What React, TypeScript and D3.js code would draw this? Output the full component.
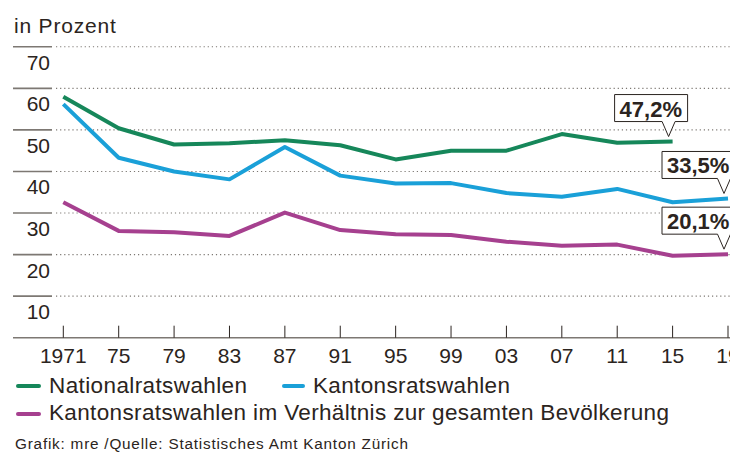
import React from "react";
import {scaleLinear, line} from "d3";

const years = [1971, 1975, 1979, 1983, 1987, 1991, 1995, 1999, 2003, 2007, 2011, 2015, 2019];
const yearLabels = ["1971", "75", "79", "83", "87", "91", "95", "99", "03", "07", "11", "15", "19"];
const nationalrat = [58.0, 50.4, 46.5, 46.8, 47.5, 46.3, 42.9, 45.0, 45.0, 49.0, 46.9, 47.2];
const kantonsrat = [56.2, 43.3, 40.0, 38.1, 45.9, 39.0, 37.1, 37.2, 34.8, 33.9, 35.8, 32.6, 33.5];
const bevoelkerung = [32.6, 25.7, 25.4, 24.5, 30.1, 25.9, 24.9, 24.7, 23.1, 22.1, 22.4, 19.7, 20.1];
const yTicks = [10, 20, 30, 40, 50, 60, 70];
const callouts = ["47,2%", "33,5%", "20,1%"];

const GREEN = "#16875a";
const BLUE = "#1aa0d8";
const PURPLE = "#a6408f";
const TEXT = "#2b2420";
const GRID = "#7d7873";
const FONT = "'Liberation Sans', Arial, Helvetica, sans-serif";

export default function App() {
    const width = 730;
    const height = 452;

    const x = scaleLinear().domain([1971, 2019]).range([63.3, 728]);
    const y = scaleLinear().domain([0, 70]).range([337.7, 46.8]);

    const path = line<number>()
        .x((d, i) => x(years[i]))
        .y((d) => y(d));

    const series = [
        {name: "Nationalratswahlen", values: nationalrat, color: GREEN, boxShift: 54},
        {name: "Kantonsratswahlen", values: kantonsrat, color: BLUE, boxShift: 62},
        {name: "Kantonsratswahlen im Verhältnis zur gesamten Bevölkerung", values: bevoelkerung, color: PURPLE, boxShift: 62},
    ];

    return (
        <svg
            width={width}
            height={height}
            style={{position: "absolute", left: 0, top: 0, display: "block", background: "#fff"}}
            fontFamily={FONT}
        >
            <text x={14} y={33} fontSize={21} letterSpacing={0.8} fill={TEXT}>in Prozent</text>

            {/* grid */}
            {yTicks.map((v) => (
                <g key={v}>
                    <line x1={13} x2={52} y1={y(v)} y2={y(v)} stroke={GRID} strokeWidth={1.6} />
                    <line x1={56} x2={width} y1={y(v)} y2={y(v)} stroke={GRID} strokeWidth={1.1} strokeDasharray="1.2 2.9" />
                    <text x={50} y={y(v) + 23} fontSize={21} textAnchor="end" fill={TEXT}>{v}</text>
                </g>
            ))}

            {/* x axis */}
            <line x1={13} x2={width} y1={y(0)} y2={y(0)} stroke={GRID} strokeWidth={1.6} />
            {years.map((yr, i) => (
                <g key={yr}>
                    <line x1={x(yr)} x2={x(yr)} y1={y(0) - 12} y2={y(0)} stroke={TEXT} strokeWidth={1} />
                    <text x={x(yr)} y={362.7} fontSize={21} textAnchor="middle" fill={TEXT}>{yearLabels[i]}</text>
                </g>
            ))}

            {/* lines */}
            {series.map((s) => (
                <path key={s.name} d={path(s.values) || ""} fill="none" stroke={s.color} strokeWidth={4} strokeLinejoin="round" />
            ))}

            {/* callouts */}
            {series.map((s, i) => {
                const last = s.values.length - 1;
                const tx = x(years[last]) - 4;
                const ty = y(s.values[last]) - 5;
                const bw = 73;
                const bh = 27;
                const bx = tx - s.boxShift;
                const by = ty - 15 - bh;
                const d = `M${bx},${by} H${bx + bw} V${by + bh} H${tx + 6.5} L${tx},${ty} L${tx - 6.5},${by + bh} H${bx} Z`;
                return (
                    <g key={"c" + i}>
                        <path d={d} fill="#fff" stroke={TEXT} strokeWidth={1} />
                        <text x={bx + 5} y={by + 22} fontSize={22} fontWeight="bold" fill={TEXT}>{callouts[i]}</text>
                    </g>
                );
            })}

            {/* legend */}
            <line x1={18} x2={39} y1={386} y2={386} stroke={GREEN} strokeWidth={4} strokeLinecap="round" />
            <text x={49} y={392.7} fontSize={22.5} textLength={198} lengthAdjust="spacing" fill={TEXT}>{series[0].name}</text>
            <line x1={284} x2={303} y1={386} y2={386} stroke={BLUE} strokeWidth={4} strokeLinecap="round" />
            <text x={313} y={392.7} fontSize={22.5} textLength={197} lengthAdjust="spacing" fill={TEXT}>{series[1].name}</text>
            <line x1={18} x2={39} y1={414} y2={414} stroke={PURPLE} strokeWidth={4} strokeLinecap="round" />
            <text x={49} y={420} fontSize={22.5} textLength={620} lengthAdjust="spacing" fill={TEXT}>{series[2].name}</text>

            <text x={15} y={448.5} fontSize={15.3} textLength={393} lengthAdjust="spacing" fill={TEXT}>Grafik: mre /Quelle: Statistisches Amt Kanton Zürich</text>
        </svg>
    );
}
